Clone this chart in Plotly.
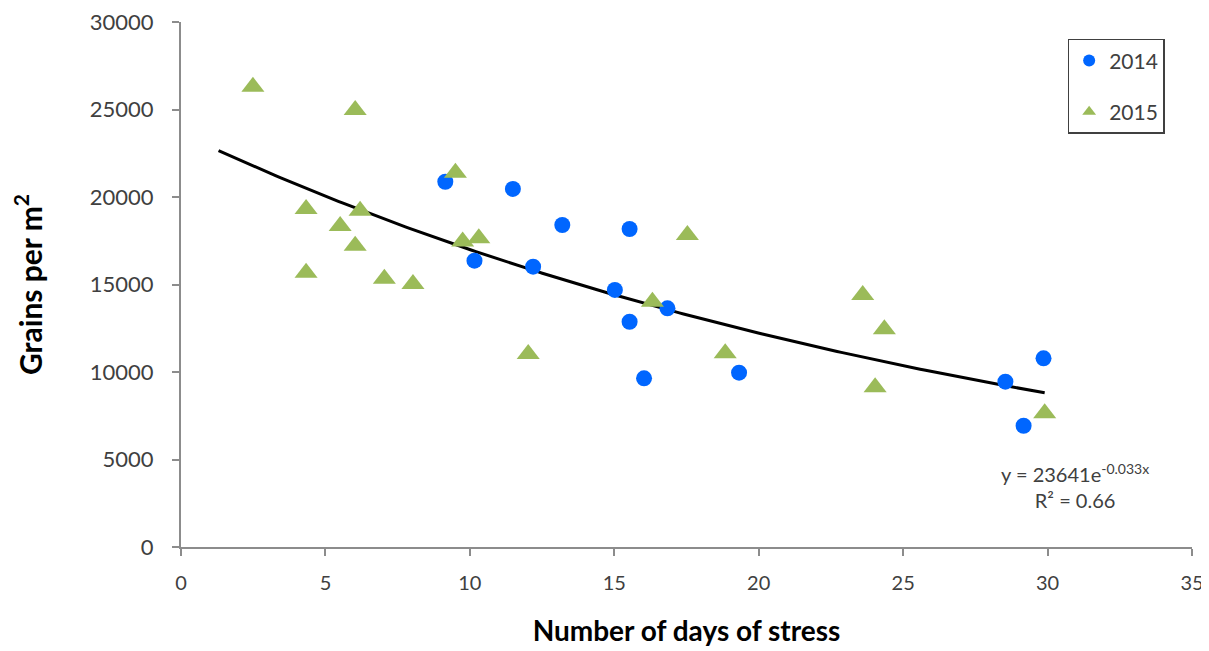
import numpy as np
import plotly.graph_objects as go

# 2014 data (blue circles)
days_2014 = [9.15, 10.16, 11.49, 12.19, 13.2, 15.02, 15.53, 15.53, 16.03, 16.84, 19.32, 28.54, 29.17, 29.86]
grains_2014 = [20870, 16360, 20460, 16020, 18400, 14690, 18170, 12870, 9640, 13640, 9960, 9450, 6930, 10780]

# 2015 data (green triangles)
days_2015 = [2.49, 6.03, 9.5, 4.33, 6.2, 5.51, 6.03, 4.33, 7.04, 8.03, 9.75, 10.31, 12.02, 16.32,
             17.53, 18.84, 23.6, 24.35, 24.03, 29.9]
grains_2015 = [26300, 24970, 21390, 19310, 19220, 18340, 17220, 15670, 15330, 15030, 17450, 17640, 11030, 14020,
               17830, 11070, 14400, 12440, 9130, 7640]

# Exponential trendline shown on the chart: y = 23641 e^(-0.033x)
trend_a = 23641
trend_b = -0.033
trend_x_start, trend_x_end = 1.3, 29.9

x_ticks = [0, 5, 10, 15, 20, 25, 30, 35]
y_ticks = [0, 5000, 10000, 15000, 20000, 25000, 30000]
y_tick_labels = ["0", "5000", "10000", "15000", "20000", "25000", "30000"]

tx = np.linspace(trend_x_start, trend_x_end, 200)
ty = trend_a * np.exp(trend_b * tx)

FONT = "Lato"
fig = go.Figure()

fig.add_trace(go.Scatter(
    x=tx, y=ty, mode="lines", line=dict(color="black", width=3),
    showlegend=False, hoverinfo="skip"))

fig.add_trace(go.Scatter(
    x=days_2014, y=grains_2014, mode="markers", name="2014", legendgroup="a",
    marker=dict(symbol="circle", size=16, color="#0066FF")))

fig.add_trace(go.Scatter(
    x=days_2015, y=grains_2015, mode="markers", name="2015", legendgroup="b",
    marker=dict(symbol="triangle-up", size=20, color="#9BBB59")))

fig.add_annotation(
    x=30.95, y=3500, xref="x", yref="y",
    text="y = 23641e<sup>-0.033x</sup><br>R² = 0.66",
    showarrow=False, align="center",
    font=dict(family=FONT, size=20, color="#404040"))

# page body has an 8px default margin, so the figure is offset by 8px
fig.update_layout(
    width=1201, height=643,
    margin=dict(l=173, r=17, t=14, b=104, autoexpand=False),
    paper_bgcolor="white", plot_bgcolor="white",
    font=dict(family=FONT, color="#404040"),
    legend=dict(
        x=0.877, y=0.968, xanchor="left", yanchor="top",
        bordercolor="#404040", borderwidth=1.5,
        font=dict(family=FONT, size=21, color="#404040"),
        tracegroupgap=21, itemsizing="constant"),
    xaxis=dict(
        range=[0, 35], tickvals=x_ticks, showgrid=False, zeroline=False,
        showline=True, linecolor="#8C8C8C", linewidth=2, automargin=False,
        ticks="outside", ticklen=7, tickwidth=1.5, tickcolor="#8C8C8C",
        ticklabelstandoff=10, ticklabeloverflow="allow",
        tickfont=dict(family=FONT, size=20, color="#404040"),
        title=dict(text="<b>Number of days of stress</b>", standoff=28,
                   font=dict(family=FONT, size=28, color="black"))),
    yaxis=dict(
        range=[0, 30000], tickvals=y_ticks, ticktext=y_tick_labels,
        showgrid=False, zeroline=False, automargin=False,
        showline=True, linecolor="#8C8C8C", linewidth=2,
        ticks="outside", ticklen=7, tickwidth=1.5, tickcolor="#8C8C8C",
        ticklabelstandoff=14, ticklabeloverflow="allow",
        tickfont=dict(family=FONT, size=22, color="#404040"),
        title=dict(text="<b>Grains per m<sup>2</sup></b>", standoff=40,
                   font=dict(family=FONT, size=30, color="black"))),
)

fig.write_html("out.html")
